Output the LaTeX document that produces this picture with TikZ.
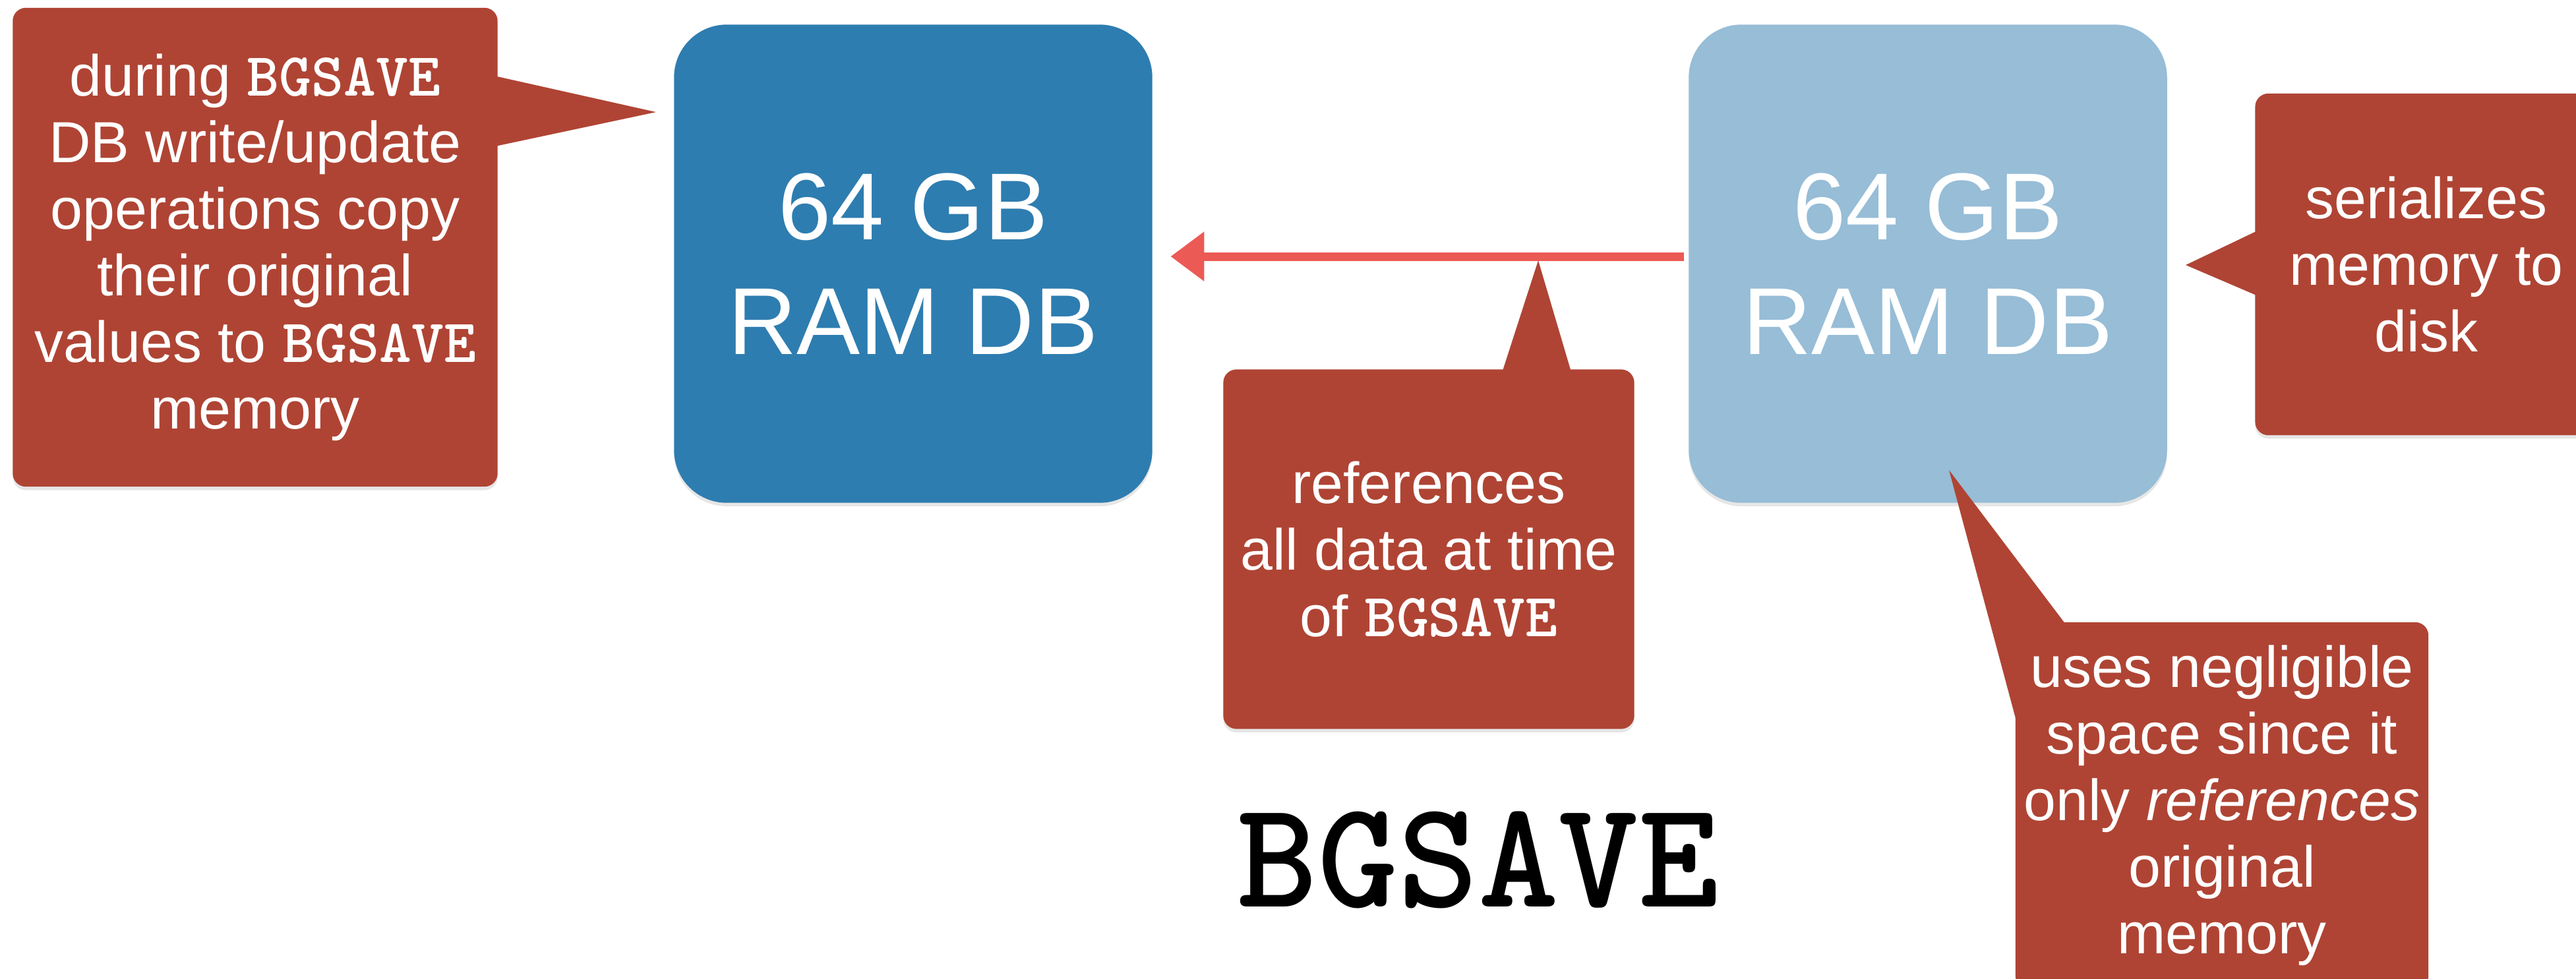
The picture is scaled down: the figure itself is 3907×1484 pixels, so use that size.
\documentclass[tikz,border=0pt]{standalone}
\usepackage{fontspec}
\setmainfont{Liberation Sans}
\usetikzlibrary{arrows.meta,shadows,calc}
\definecolor{calloutred}{HTML}{AF4434}
\definecolor{darkdb}{HTML}{2E7DB0}
\definecolor{lightdb}{HTML}{97BDD7}
\definecolor{arrowred}{HTML}{EC5A55}
\newcommand\bgs{{\fontsize{26.5}{28.7}\selectfont\ttfamily\bfseries BGSAVE}}
\begin{document}
\begin{tikzpicture}[x=0.01cm,y=-0.01cm,
  dbbox/.style={rounded corners=0.8cm, minimum width=7.25cm, minimum height=7.25cm,
    align=center, text=white, font=\fontsize{41}{49.5}\selectfont,
    drop shadow={opacity=0.2, shadow xshift=0pt, shadow yshift=-1.5pt}},
  callbox/.style={fill=calloutred, rounded corners=0.2cm, align=center, text=white,
    font=\fontsize{25}{28.7}\selectfont,
    drop shadow={opacity=0.2, shadow xshift=0pt, shadow yshift=-1.5pt}},
  pointer/.style={fill=calloutred},
  copyarrow/.style={draw=arrowred, line width=0.13cm, -{Triangle[length=0.51cm,width=0.72cm]}},
  title/.style={font=\fontsize{66}{72}\selectfont\ttfamily\bfseries, text=black}
]
\useasboundingbox (0,0) rectangle (3907,1484);
\clip (0,0) rectangle (3907,1484);

% database boxes
\node[dbbox, fill=darkdb] (ldb) at (1385,400) {64 GB\\RAM DB};
\node[dbbox, fill=lightdb] (rdb) at (2924,400) {64 GB\\RAM DB};

% copy-on-write arrow
\draw[copyarrow] ([shift={(-7,-11)}]rdb.west) -- ([shift={(27,-11)}]ldb.east);

% callout tips
\coordinate (lctip) at (995,170);
\coordinate (mctip) at (2333,395);
\coordinate (sctip) at (3315,402);
\coordinate (uctip) at (2956,713);

% left callout
\path (387,375) node[minimum width=7.35cm, minimum height=7.26cm] (lcpos) {};
\fill[pointer] ([shift={(-10,103)}]lcpos.north east) -- (lctip) -- ([shift={(-10,212)}]lcpos.north east) -- cycle;
\node[callbox, minimum width=7.35cm, minimum height=7.26cm] (lc) at (387,375)
  {during \bgs\\DB write/update\\operations copy\\their original\\values to \bgs\\memory};

% middle callout
\path (2167,833) node[minimum width=6.23cm, minimum height=5.45cm] (mcpos) {};
\fill[pointer] ([shift={(422,10)}]mcpos.north west) -- (mctip) -- ([shift={(530,10)}]mcpos.north west) -- cycle;
\node[callbox, minimum width=6.23cm, minimum height=5.45cm] (mc) at (2167,833)
  {references\\all data at time\\of \bgs};

% serializes callout
\path (3680,401) node[minimum width=5.19cm, minimum height=5.18cm] (scpos) {};
\fill[pointer] ([shift={(10,206)}]scpos.north west) -- (sctip) -- ([shift={(10,310)}]scpos.north west) -- cycle;
\node[callbox, minimum width=5.19cm, minimum height=5.18cm] (sc) at (3680,401)
  {serializes\\memory to\\disk};

% uses callout
\path (3370,1222) node[minimum width=6.26cm, minimum height=5.56cm] (ucpos) {};
\fill[pointer] ([shift={(80,8)}]ucpos.north west) -- (uctip) -- ([shift={(8,173)}]ucpos.north west) -- cycle;
\node[callbox, minimum width=6.26cm, minimum height=5.56cm] (uc) at (3370,1222)
  {uses negligible\\space since it\\only \textit{references}\\original\\memory};

% title
\node[title, anchor=base] (ttl) at (2242,1375) {BGSAVE};
\end{tikzpicture}
\end{document}
